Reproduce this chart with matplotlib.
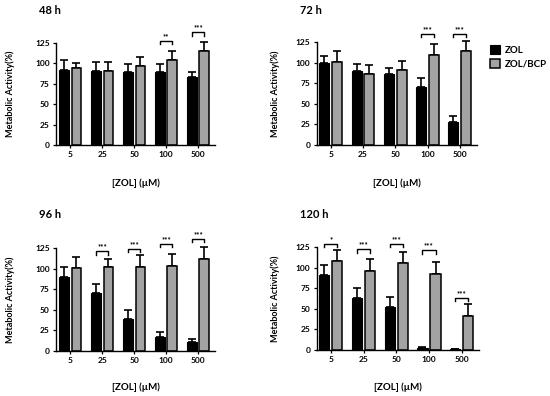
import numpy as np
import matplotlib
matplotlib.use('Agg')
import matplotlib.pyplot as plt
from matplotlib.patches import Patch

plt.rcParams['font.family'] = ['Lato', 'DejaVu Sans']
plt.rcParams['font.weight'] = 'bold'

conc = ['5', '25', '50', '100', '500']
titles = ['48 h', '72 h', '96 h', '120 h']

zol = [
    [92, 90.6, 89.3, 89.8, 82.8],
    [100, 90, 86, 70.5, 28],
    [90, 70.5, 38.5, 16.4, 11],
    [91.4, 62.7, 52.5, 2.5, 0.8],
]
zol_err = [
    [12.5, 11, 9.7, 9.8, 6.5],
    [8.6, 9, 7.3, 11, 7.4],
    [11.6, 10.5, 11.1, 6.1, 4],
    [11.9, 12.3, 11.5, 0.8, 0.2],
]
bcp = [
    [94, 90.6, 96.3, 103.7, 115.6],
    [101.5, 86.8, 91.7, 109.6, 114],
    [100.4, 102.5, 102, 103.7, 112],
    [107.8, 96.3, 105.7, 91.8, 41.8],
]
bcp_err = [
    [7, 11, 11.7, 11.9, 10.2],
    [12.5, 11, 10.6, 13.4, 12.7],
    [13.1, 9, 14, 14.3, 14.6],
    [13.9, 14.4, 13.6, 14.8, 13.5],
]
# significance brackets: (group index, height, stars)
sig = [
    [(3, 128, '**'), (4, 138, '***')],
    [(3, 135, '***'), (4, 135, '***')],
    [(1, 121, '***'), (2, 124, '***'), (3, 130, '***'), (4, 136.5, '***')],
    [(0, 129, '*'), (1, 122, '***'), (2, 129, '***'), (3, 121, '***'), (4, 63.5, '***')],
]

W, H = 550, 396
fig = plt.figure(figsize=(5.5, 3.96), dpi=100)

# axes boxes in pixels: left, right, y of zero, px per unit
boxes = [(56, 215, 145, 0.816), (316.5, 477, 145, 0.822),
         (56, 215, 351, 0.824), (316.5, 479, 350, 0.824)]
ymax = 127.5
x = np.arange(len(conc))
bw = 0.31
off = 0.2
gray = '#a3a3a3'

for i, (l, r, y0, ppu) in enumerate(boxes):
    h = ymax * ppu
    ax = fig.add_axes([l / W, (H - y0) / H, (r - l) / W, h / H])
    ax.bar(x - off, zol[i], bw, color='black', edgecolor='black', linewidth=0.8, zorder=2)
    ax.bar(x + off, bcp[i], bw, color=gray, edgecolor='black', linewidth=1.1, zorder=2)
    ax.errorbar(x - off, zol[i], yerr=[np.zeros(5), zol_err[i]], fmt='none',
                ecolor='black', elinewidth=1.2, capsize=3.2, capthick=1.2, zorder=1)
    ax.errorbar(x + off, bcp[i], yerr=[np.zeros(5), bcp_err[i]], fmt='none',
                ecolor='black', elinewidth=1.2, capsize=3.2, capthick=1.2, zorder=1)
    for g, yb, s in sig[i]:
        ax.plot([g - off, g - off, g + off, g + off], [yb - 4, yb, yb, yb - 4],
                color='black', lw=1.0, clip_on=False)
        ax.text(g, yb + 1, s, ha='center', va='bottom', fontsize=5.5, clip_on=False)
    ax.set_xlim(-0.44, 4.53)
    ax.set_ylim(0, ymax)
    ax.set_yticks([0, 25, 50, 75, 100, 125])
    ax.set_xticks(x)
    ax.set_xticklabels(conc)
    ax.tick_params(labelsize=6, length=2.5, width=0.9, pad=2)
    for sp in ['top', 'right']:
        ax.spines[sp].set_visible(False)
    for sp in ['left', 'bottom']:
        ax.spines[sp].set_linewidth(1.0)
    ax.spines['left'].set_bounds(0, 125)

    cx = (l + r) / 2
    ty = 10 if i < 2 else 214
    fig.text((l - 17) / W, 1 - ty / H, titles[i], fontsize=8, va='center', ha='left')
    lx = 10 if i % 2 == 0 else 275
    fig.text(lx / W, 1 - (y0 - 125 * ppu / 2) / H, 'Metabolic Activity(%)',
             rotation=90, fontsize=6.5, ha='center', va='center')
    xy = 183 if i < 2 else 387
    fig.text(cx / W, 1 - xy / H, '[ZOL] (\u00b5M)', fontsize=7, ha='center', va='center')

handles = [Patch(facecolor='black', edgecolor='black', linewidth=0.8, label='ZOL'),
           Patch(facecolor=gray, edgecolor='black', linewidth=1.1, label='ZOL/BCP')]
fig.legend(handles=handles, loc='upper left', bbox_to_anchor=(481 / W, 1 - 36 / H),
           frameon=False, fontsize=7, handlelength=1.1, handleheight=1.1,
           handletextpad=0.5, labelspacing=0.4)

fig.savefig('out.png', dpi=100)
